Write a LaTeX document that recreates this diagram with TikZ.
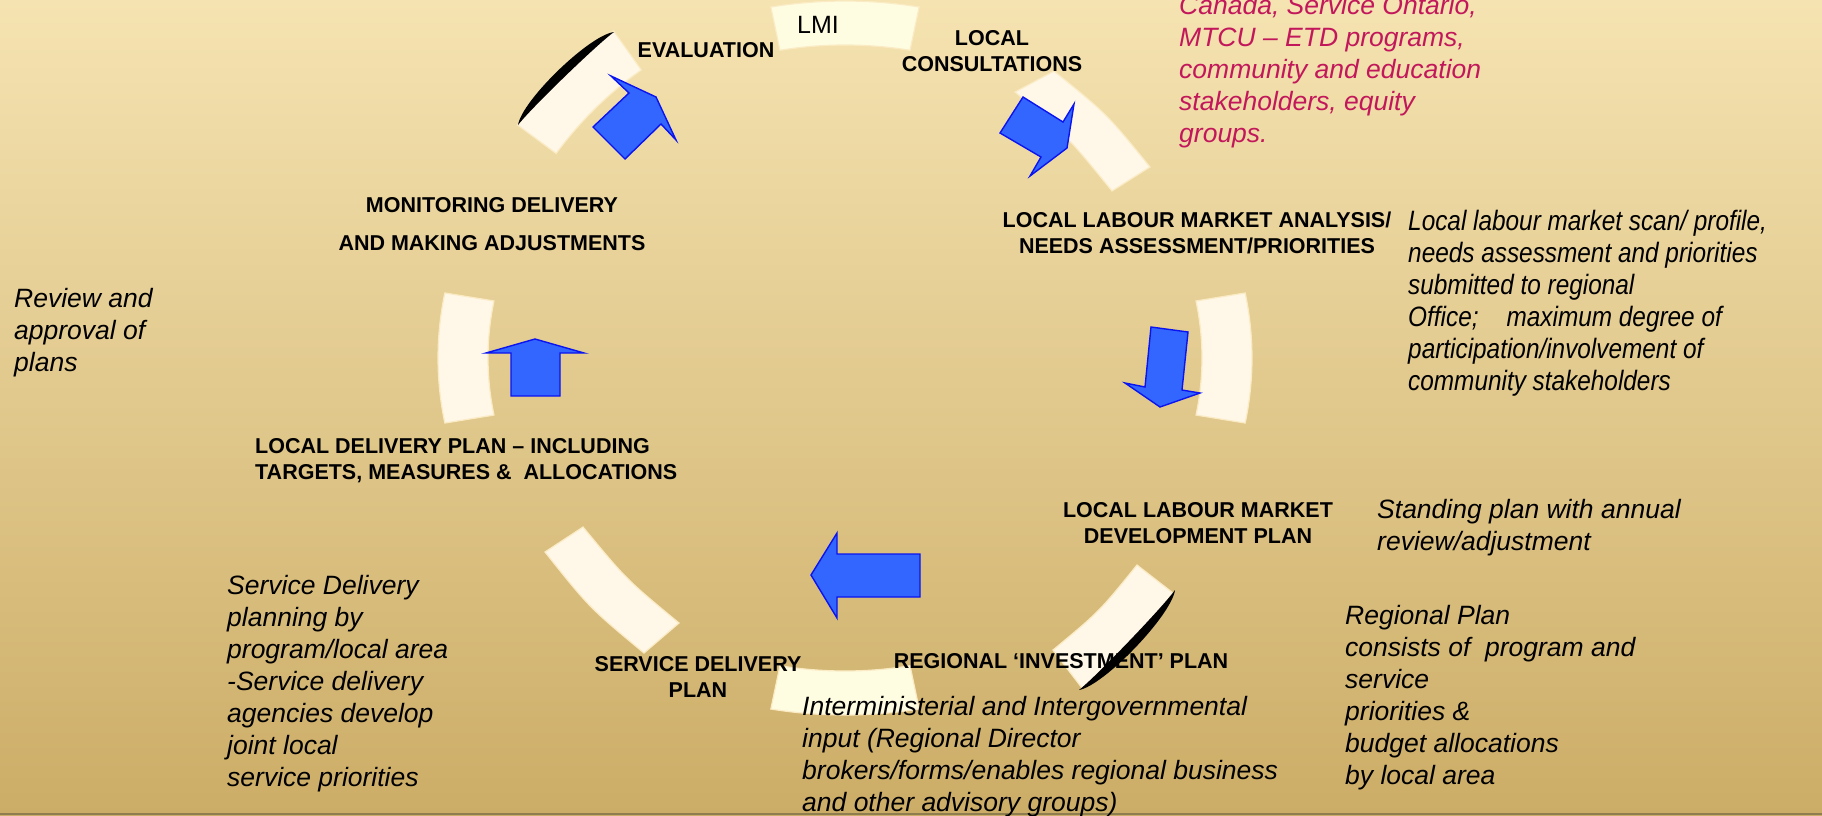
\documentclass[tikz,border=0pt]{standalone}
\usepackage{fontspec}
\setmainfont{Liberation Sans}
\newfontfamily\narrowfont[FakeStretch=0.87]{Liberation Sans}
\usetikzlibrary{calc}
\definecolor{bgtop}{HTML}{F5E3B1}
\definecolor{bgbot}{HTML}{CCAD67}
\definecolor{segfill}{HTML}{FFF8E8}
\definecolor{segyellow}{HTML}{FFFDE1}
\definecolor{segedge}{HTML}{FBEBC4}
\definecolor{arrowfill}{HTML}{3366FF}
\definecolor{arrowline}{HTML}{0A14F0}
\definecolor{crimson}{HTML}{C2185B}
\definecolor{bordercol}{HTML}{8E7D4E}
\newcommand{\ringseg}[8]{%
  \path[#8] ($(#1)+(#2:#4 and #5)$) arc[start angle=#2,end angle=#3,x radius=#4,y radius=#5]
     -- ($(#1)+(#3:#6 and #7)$) arc[start angle=#3,end angle=#2,x radius=#6,y radius=#7] -- cycle;}
\begin{document}
\begin{tikzpicture}[x=1pt,y=-1pt,
  seg/.style={fill=segfill,draw=segedge,line width=1.2pt},
  segy/.style={fill=segyellow,draw=segedge,line width=1.2pt},
  blk/.style={fill=arrowfill,draw=arrowline,line width=1.4pt,line join=miter},
  lens/.style={fill=black},
  lbl/.style={font=\fontsize{21.5}{26}\selectfont\bfseries,inner sep=0pt,align=center},
  note/.style={font=\fontsize{26.5}{32}\selectfont\itshape,inner sep=0pt,align=left,anchor=north west},
]
\useasboundingbox (0,0) rectangle (1822,815);
\shade[top color=bgtop,bottom color=bgbot] (0,0) rectangle (1822,815);
\draw[bordercol,line width=2pt] (0,814) -- (1822,814);

% ring segments
\coordinate (c) at (845,358);
\coordinate (ctl) at (858,376);
\ringseg{c}{259.5}{280.5}{407}{357}{357}{313}{segy}
\ringseg{c}{-10.5}{10.5}{407}{357}{357}{313}{seg}
\ringseg{c}{79.5}{100.5}{407}{357}{357}{313}{segy}
\ringseg{c}{169.5}{190.5}{407}{357}{357}{313}{seg}
\ringseg{ctl}{216.4}{234.7}{423}{423}{375}{375}{seg}
\path[seg] (1015,92) -- (1054,71) .. controls (1107,114) .. (1150,167) -- (1112,191) .. controls (1068,137) .. (1015,92) -- cycle;
\path[seg] (1137,565) -- (1173,593) .. controls (1132.5,645.3) .. (1082,688) -- (1053,650) .. controls (1099.3,611.6) .. (1137,565) -- cycle;
\path[seg] (545,552) .. controls (589.3,607.6) .. (644,653) -- (679,623) .. controls (626.4,579.5) .. (583,527) -- cycle;

% block arrows
\path[blk] (511,396) -- (511,353) -- (486,353) -- (535,339) -- (584,353) -- (560,353) -- (560,396) -- cycle;
\path[blk] (1151,327) -- (1188,332) -- (1182,390) -- (1200,393) -- (1160,407) -- (1125,383) -- (1145,387) -- cycle;
\path[blk] (920,554) -- (837,554) -- (837,533) -- (811,575) -- (837,618) -- (837,597) -- (920,597) -- cycle;
\path[blk] (593,127) -- (629,93) -- (611,76) -- (656,97) -- (676,140) -- (661,124) -- (625,159) -- cycle;
\path[blk] (1023,97) -- (1063,122) -- (1074,104) -- (1067,148) -- (1030,176) -- (1041,157) -- (1000,133) -- cycle;

% labels
\node[inner sep=0pt,anchor=west,font=\fontsize{25}{30}\selectfont] (lmi) at (797,25) {LMI};
\node[lbl] (eval) at (706,50) {EVALUATION};
\node[lbl] (cons) at (992,51) {LOCAL\\CONSULTATIONS};
\node[lbl] (llma) at (1197,232.5) {LOCAL LABOUR MARKET ANALYSIS/\\NEEDS ASSESSMENT/PRIORITIES};
\node[lbl,font=\fontsize{21.5}{38}\selectfont\bfseries] (mon) at (492,224) {MONITORING DELIVERY\\AND MAKING ADJUSTMENTS};
\node[lbl,align=left,anchor=north west] (ldp) at (255,438) {LOCAL DELIVERY PLAN – INCLUDING\\TARGETS, MEASURES \&\ \ ALLOCATIONS};
\node[lbl] (lmdp) at (1198,523.5) {LOCAL LABOUR MARKET\\DEVELOPMENT PLAN};
\node[lbl] (rip) at (1061,661) {REGIONAL ‘INVESTMENT’ PLAN};
\node[lbl] (sdp) at (698,677) {SERVICE DELIVERY\\PLAN};

% notes
\node[note] (review) at (14,288) {Review and\\approval of\\plans};
\node[note,text=crimson] (partners) at (1179,-5) {Canada, Service Ontario,\\MTCU – ETD programs,\\community and education\\stakeholders, equity\\groups.};
\node[note,font=\fontsize{28}{32}\selectfont\narrowfont\itshape] (scan) at (1408,210) {Local labour market scan/ profile,\\needs assessment and priorities\\submitted to regional\\Office;\hspace{1em}maximum degree of\\participation/involvement of\\community stakeholders};
\node[note] (standing) at (1377,499) {Standing plan with annual\\review/adjustment};
\node[note] (regplan) at (1345,605) {Regional Plan\\consists of\ \ program and\\service\\priorities \&\\budget allocations\\by local area};
\node[note] (sdnote) at (227,575) {Service Delivery\\planning by\\program/local area\\-Service delivery\\agencies develop\\joint local\\service priorities};
\node[note] (inter) at (802,696) {Interministerial and Intergovernmental\\input (Regional Director\\brokers/forms/enables regional business\\and other advisory groups)};

% black rims
\path[lens] (518,125) .. controls (522,100.3) and (589.2,35.2) .. (614,32) .. controls (597.5,43.8) and (530.3,108.9) .. (518,125) -- cycle;
\path[lens] (1175,590) .. controls (1171.4,615.4) and (1104.2,685.4) .. (1079,690) .. controls (1095.6,677.1) and (1162.8,607.1) .. (1175,590) -- cycle;
\end{tikzpicture}
\end{document}
